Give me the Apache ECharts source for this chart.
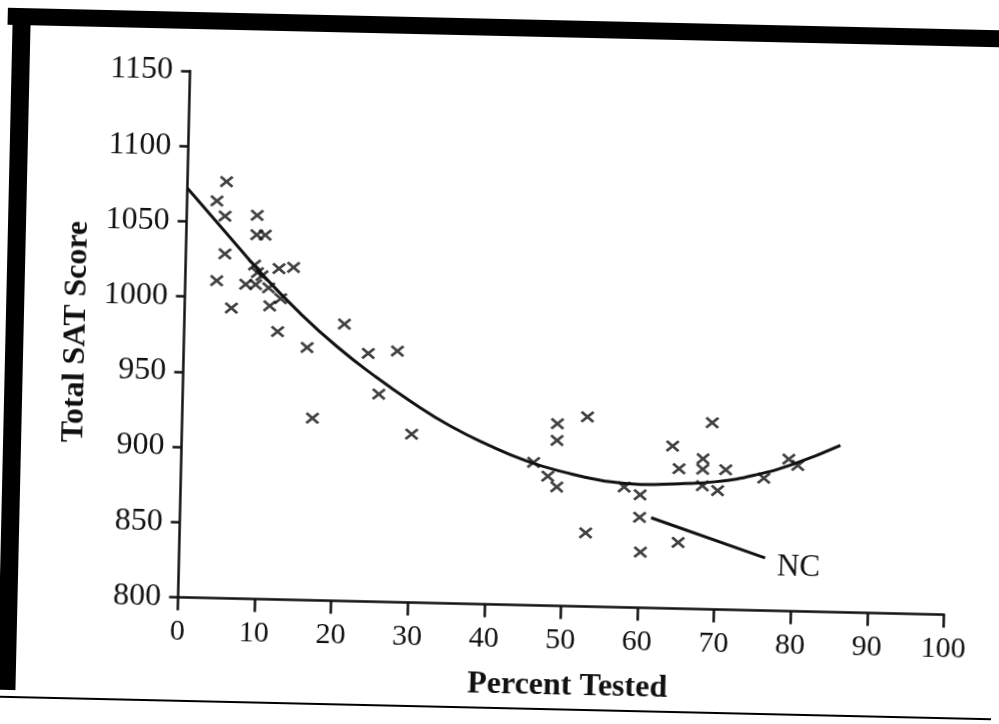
<!DOCTYPE html>
<html>
<head>
<meta charset="utf-8">
<script src="https://cdn.jsdelivr.net/npm/echarts@6/dist/echarts.min.js"></script>
<style>
html,body{margin:0;padding:0;background:#fff;overflow:hidden;}
/* the scanned reference page sits slightly rotated */
#chart{width:999px;height:724px;transform:rotate(1.3deg);transform-origin:50% 50%;}
</style>
</head>
<body>
<div id="chart"></div>
<script>
// Percent of students tested (x) and total SAT score (y), one point per state
const percentTested = [3.9,5.1,5.0,5.1,4.1,6.1,9.2,9.2,10.3,9.0,12.2,14.1,9.4,10.0,7.9,9.2,10.9,12.5,11.1,12.2,
  20.9,16.1,24.1,27.9,25.6,17.0,30.0,46.0,47.9,49.1,49.0,49.0,52.9,53.0,57.9,60.0,60.0,60.2,65.1,64.1,
  65.0,69.2,68.1,68.1,68.1,71.1,70.1,76.1,79.3,80.5];
const satScore = [1064,1077,1054,1029,1011,993,1055,1042,1042,1022,1020,1021,1017,1015,1009,1009,1007,1000,995,978,
  984,968,965,967,938,921,912,895,886,879,921,910,926,849,880,875,860,837,844,908,
  893,924,900,893,882,893,879,888,901,897];

// Fitted curve
const curveX = [0,5,10,15,20,25,30,35,40,45,50,55,60,65,70,75,80,86];
const curveY = [1072,1044,1016,991,969,950,933,918,906,896,889,884,882,883,885,890,898,911];

// NC pointer (from NC's point out to the label)
const ncX = [61.5,76.5];
const ncY = [860,835];
const ncLabel = 'NC';

const xTitle = 'Percent Tested';
const yTitle = 'Total SAT Score';

const serif = '"Liberation Serif","Times New Roman",serif';
const ink = '#111';

const chart = echarts.init(document.getElementById('chart'), null, {renderer:'canvas'});
chart.setOption({
  animation:false,
  backgroundColor:'#fff',
  grid:{left:183.5,right:49.5,top:78,bottom:119.5,containLabel:false},
  xAxis:{
    type:'value',min:0,max:100,interval:10,
    name:xTitle,nameLocation:'middle',nameGap:64,
    nameTextStyle:{fontFamily:serif,fontSize:32,fontWeight:'bold',color:ink,padding:[0,0,0,16]},
    axisLine:{lineStyle:{color:ink,width:2.5}},
    axisTick:{length:13,lineStyle:{color:ink,width:2.5}},
    axisLabel:{fontFamily:serif,fontSize:30,color:ink,margin:20},
    splitLine:{show:false}
  },
  yAxis:{
    type:'value',min:800,max:1150,interval:50,
    name:yTitle,nameLocation:'middle',nameGap:92,nameRotate:90,
    nameTextStyle:{fontFamily:serif,fontSize:32,fontWeight:'bold',color:ink},
    axisLine:{lineStyle:{color:ink,width:2.5}},
    axisTick:{length:9,lineStyle:{color:ink,width:2.5}},
    axisLabel:{fontFamily:serif,fontSize:32,color:ink,margin:17,formatter:v=>String(v)},
    splitLine:{show:false}
  },
  series:[
    {
      type:'line',smooth:true,showSymbol:false,silent:true,
      data:curveX.map((x,i)=>[x,curveY[i]]),
      lineStyle:{color:ink,width:3}
    },
    {
      type:'scatter',silent:true,
      symbol:'path://M0,0L10,10M10,0L0,10',symbolSize:[12,10],
      data:percentTested.map((x,i)=>[x,satScore[i]]),
      itemStyle:{color:'transparent',borderColor:ink,borderWidth:2.7}
    },
    {
      type:'line',silent:true,showSymbol:false,
      data:ncX.map((x,i)=>[x,ncY[i]]),
      lineStyle:{color:ink,width:3},
      endLabel:{show:true,formatter:ncLabel,fontFamily:serif,fontSize:31,color:ink,distance:12,offset:[0,9]}
    }
  ],
  graphic:[
    {type:'rect',silent:true,shape:{x:0,y:19,width:999,height:17},style:{fill:'#000'}},
    {type:'rect',silent:true,shape:{x:5,y:19,width:18,height:682},style:{fill:'#000'}},
    {type:'line',silent:true,shape:{x1:0,y1:708,x2:999,y2:708},style:{stroke:'#000',lineWidth:2}}
  ]
});
</script>
</body>
</html>
